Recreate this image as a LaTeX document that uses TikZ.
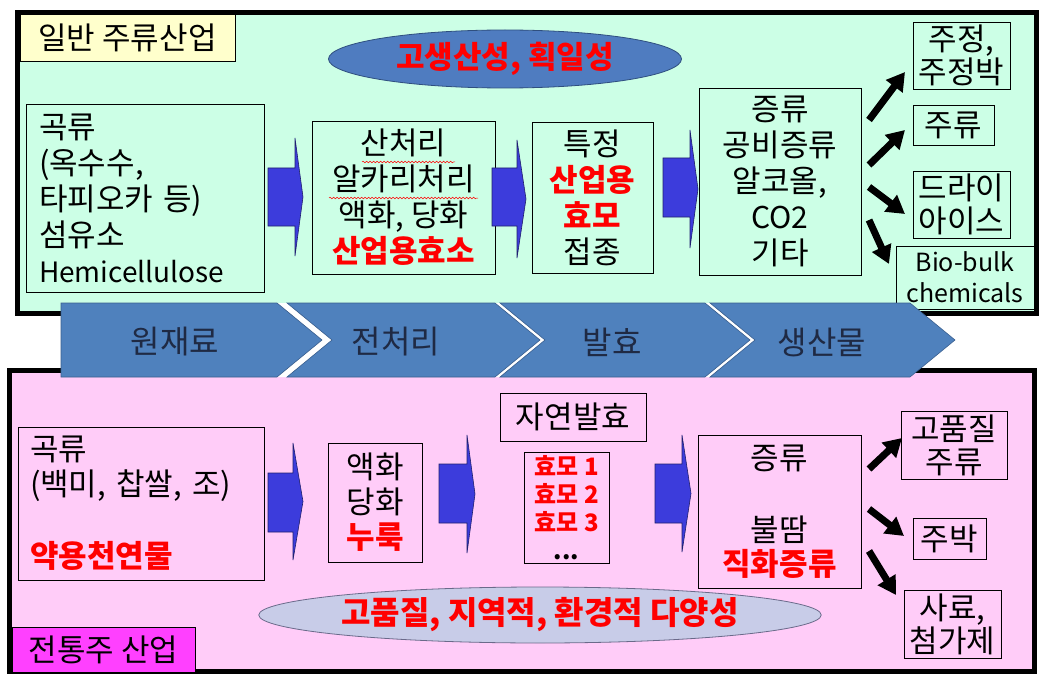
\documentclass[tikz,border=0pt]{standalone}
\usepackage{fontspec}
\setmainfont{Noto Sans CJK KR}
\usetikzlibrary{shapes.geometric,arrows.meta,decorations.pathmorphing}
\definecolor{mint}{HTML}{CCFFE6}
\definecolor{pinkbg}{HTML}{FFCCF8}
\definecolor{lblyel}{HTML}{FFFFCC}
\definecolor{lblmag}{HTML}{FF40FF}
\definecolor{chev}{HTML}{4F81BD}
\definecolor{chevline}{HTML}{3A5F8F}
\definecolor{chevtxt}{HTML}{1F2A44}
\definecolor{arrblue}{HTML}{3C3CDC}
\definecolor{arrline}{HTML}{20206E}
\definecolor{ellblue}{HTML}{4F7CC0}
\definecolor{ellline}{HTML}{2F4F7F}
\definecolor{elllav}{HTML}{C8CCE8}
\definecolor{elllavline}{HTML}{6A6A8A}
\definecolor{kred}{HTML}{FF0000}
\newcommand\fA{\fontsize{31}{36}\selectfont}
\newcommand\fB{\fontsize{31}{33}\selectfont}
\newcommand\fL{\fontsize{28}{36}\selectfont}
\newcommand\fR[1]{{\color{kred}\bfseries #1}}
\newcommand\rbox[6][]{\node[bx,#1,minimum width={(#4-#2)*1pt},minimum height={(#5-#3)*1pt}] (#6) at ({(#2+#4)/2},{(#3+#5)/2})}
\newcommand\barr[7]{\draw[barrow] (#1,#3)--(#2,#3)--(#2,#5)--(#7,{(#5+#6)/2})--(#2,#6)--(#2,#4)--(#1,#4)--cycle;}
\tikzset{
  bx/.style={draw=black,line width=0.8pt,inner sep=0pt,align=center,font=\fA},
  barrow/.style={fill=arrblue,draw=arrline,line width=0.6pt},
  karrow/.style={line width=7pt,-{Triangle[length=18pt,width=20pt]}},
  chevshape/.style={fill=chev,draw=chevline,line width=0.6pt},
  chevlbl/.style={text=chevtxt,font=\fontsize{32}{36}\selectfont,inner sep=0pt},
  wavy/.style={draw=kred,line width=0.5pt,decorate,decoration={snake,amplitude=0.8pt,segment length=3.5pt}}
}
\begin{document}
\begin{tikzpicture}[x=1pt,y=-1pt]
\useasboundingbox[fill=white] (0,0) rectangle (1039,674);
% ---------- top panel ----------
\draw[fill=mint,line width=5pt] (17.5,12.5) rectangle (1036,313);
\rbox[fill=lblyel]{20}{14}{235}{61}{toplbl} {일반 주류산업};
\node[ellipse,fill=ellblue,draw=ellline,line width=0.8pt,minimum width=353pt,minimum height=58pt,inner sep=0pt,font=\fontsize{31}{34}\selectfont] (te) at (505,59) {\fR{고생산성, 획일성}};
\rbox[align=left,text width=212pt,inner xsep=12pt]{26}{104}{264}{292}{t1} {곡류\\(옥수수,\\타피오카 등)\\섬유소\\{\fL Hemicellulose}};
\barr{268}{295}{168}{226}{138}{256}{303}
\rbox{312}{121}{495}{274}{t2} {산처리\\알카리처리\\액화, 당화\\\fR{산업용효소}};
\draw[wavy] (362,162) -- (455,162);
\draw[wavy] (329,198) -- (478,198);
\barr{492}{517}{168}{226}{140}{258}{526}
\rbox{532}{122}{653}{273}{t3} {특정\\\fR{산업용}\\\fR{효모}\\접종};
\barr{663}{690}{158}{217}{130}{248}{698}
\rbox{699}{88}{861}{275}{t4} {증류\\공비증류\\알코올,\\{\fontsize{30}{36}\selectfont CO2}\\기타};
\rbox[font=\fB]{913}{22}{1010}{89}{r1} {주정,\\주정박};
\rbox{913}{105}{994}{145}{r2} {주류};
\rbox[font=\fB]{913}{171}{1010}{238}{r3} {드라이\\아이스};
\rbox[font=\fontsize{25}{31}\selectfont]{896}{246}{1034}{309}{r4} {Bio-bulk\\chemicals};
\coordinate (k1s) at (869,120); \coordinate (k1e) at (905,72);
\coordinate (k2s) at (869,165); \coordinate (k2e) at (905,130);
\coordinate (k3s) at (869,187); \coordinate (k3e) at (905,214);
\coordinate (k4s) at (869,220); \coordinate (k4e) at (889,264);
\draw[karrow] (k1s) -- (k1e);
\draw[karrow] (k2s) -- (k2e);
\draw[karrow] (k3s) -- (k3e);
\draw[karrow] (k4s) -- (k4e);
% ---------- bottom panel ----------
\draw[fill=pinkbg,line width=5pt] (9.5,370) rectangle (1034,671.5);
\rbox[fill=lblmag]{12}{627}{195}{672}{botlbl} {전통주 산업};
\rbox[align=left,text width=222pt,inner xsep=12pt,font=\fontsize{31}{35}\selectfont]{18}{427}{264}{580}{b1} {곡류\\(백미, 찹쌀, 조)\\[37pt]\fR{약용천연물}};
\barr{268}{293}{473}{532}{443}{560}{303}
\rbox[font=\fontsize{31}{35}\selectfont]{328}{443}{422}{562}{b2} {액화\\당화\\\fR{누룩}};
\barr{439}{467}{464}{523}{435}{553}{475}
\rbox{500}{393}{646}{441}{nat} {자연발효};
\rbox[font=\fontsize{24}{28}\selectfont]{524}{452}{609}{563}{yeast} {\fR{효모 1}\\\fR{효모 2}\\\fR{효모 3}\\\textbf{...}};
\barr{655}{682}{464}{523}{435}{552}{691}
\rbox[font=\fontsize{31}{34}\selectfont]{698}{435}{861}{588}{b4} {증류\\[38pt]불땀\\\fR{직화증류}};
\rbox[font=\fB]{901}{411}{1007}{479}{s1} {고품질\\주류};
\rbox{913}{518}{986}{559}{s2} {주박};
\rbox[font=\fB]{904}{590}{1001}{658}{s3} {사료,\\첨가제};
\coordinate (m1s) at (869,469); \coordinate (m1e) at (902,438);
\coordinate (m2s) at (869,509); \coordinate (m2e) at (904,536);
\coordinate (m3s) at (869,551); \coordinate (m3e) at (896,595);
\draw[karrow] (m1s) -- (m1e);
\draw[karrow] (m2s) -- (m2e);
\draw[karrow] (m3s) -- (m3e);
\node[ellipse,fill=elllav,draw=elllavline,line width=0.8pt,minimum width=543pt,minimum height=56pt,inner sep=0pt,font=\fontsize{32}{34}\selectfont] (be) at (540,615) {\fR{고품질, 지역적, 환경적 다양성}};
% ---------- chevron band ----------
\fill[white] (277,303)--(287,303)--(332,340)--(287,377)--(277,377)--(322,340)--cycle;
\fill[white] (495,303)--(500,303)--(545,340)--(500,377)--(495,377)--(540,340)--cycle;
\fill[white] (705,303)--(710,303)--(755,340)--(710,377)--(705,377)--(750,340)--cycle;
\draw[chevshape] (61,303)--(277,303)--(322,340)--(277,377)--(61,377)--cycle;
\draw[chevshape] (287,303)--(495,303)--(540,340)--(495,377)--(287,377)--(332,340)--cycle;
\draw[chevshape] (500,303)--(705,303)--(750,340)--(705,377)--(500,377)--(545,340)--cycle;
\draw[chevshape] (710,303)--(910,303)--(955,340)--(910,377)--(710,377)--(755,340)--cycle;
\node[chevlbl] (c1) at (175,342) {원재료};
\node[chevlbl] (c2) at (396,342) {전처리};
\node[chevlbl] (c3) at (612,342) {발효};
\node[chevlbl] (c4) at (822,342) {생산물};
\end{tikzpicture}
\end{document}
